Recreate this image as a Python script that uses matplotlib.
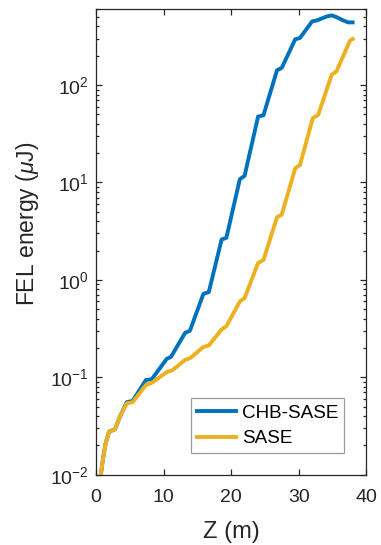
import matplotlib
matplotlib.use("Agg")
import matplotlib.pyplot as plt
from matplotlib.ticker import LogLocator, NullFormatter, FixedLocator

plt.rcParams['font.family'] = ['Liberation Sans', 'DejaVu Sans']
plt.rcParams['mathtext.fontset'] = 'custom'
plt.rcParams['mathtext.rm'] = 'Liberation Sans'
plt.rcParams['mathtext.it'] = 'Liberation Sans:italic'

# CHB-SASE (blue)
z_chb = [0.70, 1.08, 1.43, 1.93, 2.80, 3.55, 4.55, 5.43, 7.40, 8.25, 10.47, 11.10,
         13.2, 13.9, 15.9, 16.7, 18.6, 19.3, 21.3, 22.0, 24.0, 24.8, 26.8, 27.5,
         29.5, 30.2, 32.0, 32.7, 34.2, 34.9, 35.6, 36.6, 37.35, 38.0]
e_chb = [0.0098, 0.0153, 0.0210, 0.0277, 0.0292, 0.0395, 0.0555, 0.0573, 0.0940, 0.0954, 0.1545, 0.162,
         0.286, 0.300, 0.718, 0.750, 2.6, 2.7, 10.8, 11.7, 47.5, 49.0, 142, 150,
         295, 304, 450, 461, 507, 519, 499, 461, 440, 440]

# SASE (yellow)
z_sase = [0.70, 1.08, 1.43, 1.93, 2.80, 3.55, 4.55, 5.43, 7.40, 8.30, 10.5, 11.3,
          13.2, 14.0, 15.9, 16.7, 18.6, 19.3, 21.3, 22.0, 24.0, 24.8, 26.8, 27.5,
          29.5, 30.2, 32.1, 32.9, 34.9, 35.6, 37.6, 38.0]
e_sase = [0.0098, 0.0153, 0.0210, 0.0277, 0.0292, 0.0395, 0.054, 0.0555, 0.0834, 0.088, 0.1135, 0.118,
          0.151, 0.158, 0.205, 0.212, 0.31, 0.334, 0.60, 0.65, 1.49, 1.60, 4.4, 4.66,
          14.0, 15.1, 45.8, 49.5, 127.6, 138, 285, 297]

labels = ['CHB-SASE', 'SASE']
colors = ['#0072BD', '#EDB120']
xticks = [0, 10, 20, 30, 40]
yticks = [1e-2, 1e-1, 1e0, 1e1, 1e2]
ytick_labels = [r'10$^{-2}$', r'10$^{-1}$', r'10$^{0}$', r'10$^{1}$', r'10$^{2}$']

fig = plt.figure(figsize=(3.81, 5.45), dpi=100)
ax = fig.add_axes([0.252, 0.129, 0.709, 0.854])

ax.plot(z_chb, e_chb, color=colors[0], lw=2.8, label=labels[0], solid_joinstyle='round')
ax.plot(z_sase, e_sase, color=colors[1], lw=2.8, label=labels[1], solid_joinstyle='round')

ax.set_yscale('log')
ax.set_xlim(0, 40)
ax.set_ylim(1e-2, 600)
ax.set_xticks(xticks)
ax.set_xticklabels([str(t) for t in xticks])
ax.yaxis.set_major_locator(FixedLocator(yticks))
ax.set_yticklabels(ytick_labels)
ax.yaxis.set_minor_locator(LogLocator(base=10, subs=range(2, 10), numticks=20))
ax.yaxis.set_minor_formatter(NullFormatter())

dark = '#262626'
for s in ax.spines.values():
    s.set_color(dark)
    s.set_linewidth(0.9)
ax.tick_params(which='both', direction='in', top=True, right=True, colors=dark,
               labelsize=14, width=0.9)
ax.tick_params(which='major', length=4.3)
ax.tick_params(which='minor', length=2.2)
ax.tick_params(axis='x', which='major', pad=10)
ax.tick_params(axis='y', which='major', pad=5)

ax.set_xlabel('Z (m)', fontsize=17, color=dark)
ax.xaxis.set_label_coords(0.5, -0.1)
ax.set_ylabel(r'FEL energy ($\mu$J)', fontsize=16.5, color=dark)
ax.yaxis.set_label_coords(-0.204, 0.54)

leg = ax.legend(loc='lower right', bbox_to_anchor=(0.919, 0.046), fontsize=13.6,
                frameon=True, fancybox=False, edgecolor='#808080', handlelength=2.05,
                handletextpad=0.32, borderpad=0.32, labelspacing=0.44, borderaxespad=0)
leg.get_frame().set_linewidth(0.9)

fig.savefig('out.png', dpi=100)
